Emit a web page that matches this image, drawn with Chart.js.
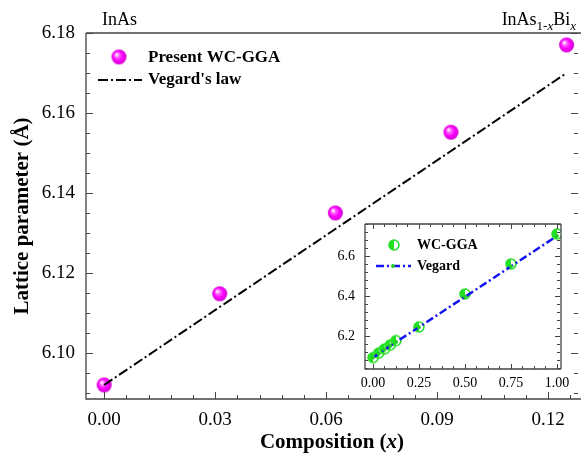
<!DOCTYPE html>
<html>
<head>
    <meta charset="utf-8">
    <script src="https://cdn.jsdelivr.net/npm/chart.js@4.4.1/dist/chart.umd.min.js"></script>
    <style>
        body { margin: 0; background: #fff; }
        #wrap { position: relative; width: 581px; height: 457px; overflow: hidden; }
        #wrap canvas { display: block; }
        #inset { position: absolute; left: 330px; top: 214px; }
    </style>
</head>
<body>
<div id="wrap">
    <canvas id="mainChart" width="581" height="457"></canvas>
    <canvas id="inset" width="245" height="186"></canvas>
</div>

<script>
    // main panel data
    var composition = [0, 0.03125, 0.0625, 0.09375, 0.125];
    var wcGga = [6.092, 6.1148, 6.135, 6.1552, 6.177];
    var vegardLaw = [6.092, 6.1115, 6.131, 6.1505, 6.170];
    var xTicks = [0, 0.03, 0.06, 0.09, 0.12];
    var yTicks = [6.10, 6.12, 6.14, 6.16, 6.18];

    // inset data (whole range 0..1)
    var insetComposition = [0, 0.03125, 0.0625, 0.09375, 0.125, 0.25, 0.5, 0.75, 1];
    var insetWcGga = [6.092, 6.115, 6.135, 6.155, 6.177, 6.245, 6.41, 6.56, 6.71];
    var insetVegard = [6.092, 6.111, 6.131, 6.150, 6.170, 6.244, 6.396, 6.548, 6.70];
    var insetXTicks = [0, 0.25, 0.5, 0.75, 1];
    var insetYTicks = [6.2, 6.4, 6.6];

    var serif = "'Liberation Serif', 'DejaVu Serif', serif";

    function pts(xs, ys) {
        return xs.map(function (x, i) { return {x: x, y: ys[i]}; });
    }

    // magenta ball marker
    function makeBall(r) {
        var c = document.createElement('canvas');
        c.width = c.height = 2 * r + 2;
        var g = c.getContext('2d');
        var m = r + 1;
        var grad = g.createRadialGradient(m - r * 0.35, m - r * 0.35, 0.5, m, m, r);
        grad.addColorStop(0, '#ffffff');
        grad.addColorStop(0.25, '#ff6cff');
        grad.addColorStop(0.6, '#ff00ff');
        grad.addColorStop(1, '#d000d0');
        g.fillStyle = grad;
        g.beginPath();
        g.arc(m, m, r, 0, Math.PI * 2);
        g.fill();
        return c;
    }

    // half filled green circle
    function makeHalf(r) {
        var c = document.createElement('canvas');
        c.width = c.height = 2 * r + 4;
        var g = c.getContext('2d');
        var m = r + 2;
        g.fillStyle = '#fff';
        g.beginPath(); g.arc(m, m, r, 0, Math.PI * 2); g.fill();
        g.fillStyle = '#22e022';
        g.beginPath(); g.arc(m, m, r, Math.PI / 2, Math.PI * 1.5); g.closePath(); g.fill();
        g.strokeStyle = '#22e022';
        g.lineWidth = 1.6;
        g.beginPath(); g.arc(m, m, r, 0, Math.PI * 2); g.stroke();
        return c;
    }

    var ball = makeBall(7.5);
    var half = makeHalf(5);

    function isMajor(v, step) {
        var q = v / step;
        return Math.abs(q - Math.round(q)) < 1e-6;
    }

    // frame + inward ticks (library only draws outward ones)
    var frameTicks = {
        id: 'frameTicks',
        beforeDraw: function (chart, args, o) {
            if (!o.fill) return;
            var a = chart.chartArea, ctx = chart.ctx;
            ctx.save();
            ctx.fillStyle = o.fill;
            ctx.fillRect(a.left, a.top, a.right - a.left, a.bottom - a.top);
            ctx.restore();
        },
        afterDraw: function (chart, args, o) {
            var ctx = chart.ctx, a = chart.chartArea;
            var xs = chart.scales.x, ys = chart.scales.y;
            var i, v, p, len;
            ctx.save();
            ctx.strokeStyle = o.color;
            ctx.lineWidth = o.width;
            ctx.beginPath();
            ctx.moveTo(a.left, a.top); ctx.lineTo(a.left, a.bottom); ctx.lineTo(a.right, a.bottom);
            ctx.moveTo(a.left, a.top); ctx.lineTo(a.right, a.top);
            if (o.rightLine) { ctx.moveTo(a.right, a.top); ctx.lineTo(a.right, a.bottom); }
            ctx.stroke();

            ctx.lineWidth = 1;
            ctx.beginPath();
            for (i = Math.ceil(xs.min / o.xMinor - 1e-9); i * o.xMinor <= xs.max + 1e-9; i++) {
                v = i * o.xMinor;
                len = isMajor(v, o.xMajor) ? o.major : o.minor;
                p = Math.round(xs.getPixelForValue(v)) + 0.5;
                ctx.moveTo(p, a.bottom); ctx.lineTo(p, a.bottom - len);
                if (o.topTicks) { ctx.moveTo(p, a.top); ctx.lineTo(p, a.top + len); }
            }
            for (i = Math.ceil(ys.min / o.yMinor - 1e-9); i * o.yMinor <= ys.max + 1e-9; i++) {
                v = i * o.yMinor;
                len = isMajor(v, o.yMajor) ? o.major : o.minor;
                p = Math.round(ys.getPixelForValue(v)) + 0.5;
                ctx.moveTo(a.left, p); ctx.lineTo(a.left + len, p);
                ctx.moveTo(a.right - o.rightInset, p); ctx.lineTo(a.right - o.rightInset - len, p);
            }
            ctx.stroke();
            ctx.restore();
        }
    };

    // draw a row of text pieces with different fonts
    function drawRuns(ctx, runs, x, y, align) {
        var total = 0;
        runs.forEach(function (r) { ctx.font = r.font; total += ctx.measureText(r.text).width; });
        var cx = align === 'center' ? x - total / 2 : (align === 'right' ? x - total : x);
        ctx.textAlign = 'left';
        runs.forEach(function (r) {
            ctx.font = r.font;
            ctx.fillText(r.text, cx, y + (r.dy || 0));
            cx += ctx.measureText(r.text).width;
        });
    }

    var mainText = {
        id: 'mainText',
        afterDraw: function (chart) {
            var ctx = chart.ctx;
            ctx.save();
            ctx.fillStyle = '#000';
            ctx.textBaseline = 'alphabetic';

            ctx.font = '18px ' + serif;
            ctx.fillText('InAs', 102, 25);
            drawRuns(ctx, [
                {text: 'InAs', font: '18px ' + serif},
                {text: '1-', font: '13px ' + serif, dy: 5},
                {text: 'x', font: 'italic 13px ' + serif, dy: 5},
                {text: 'Bi', font: '18px ' + serif},
                {text: 'x', font: 'italic 13px ' + serif, dy: 5}
            ], 576, 25, 'right');

            drawRuns(ctx, [
                {text: 'Composition (', font: 'bold 21px ' + serif},
                {text: 'x', font: 'bold italic 21px ' + serif},
                {text: ')', font: 'bold 21px ' + serif}
            ], 332, 448, 'center');

            ctx.save();
            ctx.translate(28, 216);
            ctx.rotate(-Math.PI / 2);
            ctx.textAlign = 'center';
            ctx.font = 'bold 21px ' + serif;
            ctx.fillText('Lattice parameter (\u00c5)', 0, 0);
            ctx.restore();

            // legend
            ctx.drawImage(ball, 110.5, 48.5);
            ctx.font = 'bold 17px ' + serif;
            ctx.textBaseline = 'middle';
            ctx.textAlign = 'left';
            ctx.fillText('Present WC-GGA', 148, 58);
            ctx.fillText("Vegard's law", 148, 80);
            ctx.strokeStyle = '#000';
            ctx.lineWidth = 2;
            ctx.setLineDash([10, 3, 2, 3]);
            ctx.beginPath();
            ctx.moveTo(98, 80); ctx.lineTo(142, 80);
            ctx.stroke();
            ctx.restore();
        }
    };

    var insetText = {
        id: 'insetText',
        afterDraw: function (chart) {
            var ctx = chart.ctx, a = chart.chartArea;
            var lx = a.left + 11, tx = a.left + 52;
            ctx.save();
            ctx.drawImage(half, a.left + 29 - 7, a.top + 21 - 7);
            ctx.fillStyle = '#000';
            ctx.font = 'bold 14px ' + serif;
            ctx.textBaseline = 'middle';
            ctx.fillText('WC-GGA', tx, a.top + 21);
            ctx.fillText('Vegard', tx, a.top + 42);
            ctx.strokeStyle = '#1414f0';
            ctx.lineWidth = 2.5;
            ctx.setLineDash([8, 3, 2, 3]);
            ctx.beginPath();
            ctx.moveTo(lx, a.top + 42); ctx.lineTo(lx + 35, a.top + 42);
            ctx.stroke();
            ctx.fillStyle = '#22d022';
            ctx.beginPath();
            ctx.arc(lx + 17, a.top + 42, 2, 0, Math.PI * 2);
            ctx.fill();
            ctx.restore();
        }
    };

    function tickList(arr) {
        return function (s) { s.ticks = arr.map(function (v) { return {value: v}; }); };
    }

    // fixed box sizes, no extra room for edge labels
    function fixHeight(h) {
        return function (s) { s.height = h; s.paddingLeft = 0; s.paddingRight = 0; };
    }
    function fixWidth(w) {
        return function (s) { s.width = w; s.paddingTop = 0; s.paddingBottom = 0; };
    }

    var mainChart = new Chart(document.getElementById('mainChart'), {
        type: 'scatter',
        data: {
            datasets: [
                {
                    label: "Vegard's law",
                    data: pts(composition, vegardLaw),
                    showLine: true,
                    borderColor: '#000',
                    borderWidth: 2,
                    borderDash: [10, 3, 2, 3],
                    pointRadius: 0
                },
                {
                    label: 'Present WC-GGA',
                    data: pts(composition, wcGga),
                    pointStyle: ball,
                    pointRadius: 7
                }
            ]
        },
        options: {
            responsive: false,
            devicePixelRatio: 1,
            animation: false,
            layout: { autoPadding: false, padding: { top: 33, right: 0, left: 0, bottom: 0 } },
            plugins: {
                legend: { display: false },
                tooltip: { enabled: false },
                frameTicks: {
                    color: '#444', width: 1.3, major: 7, minor: 4, rightInset: 3,
                    xMinor: 0.006, xMajor: 0.03, yMinor: 0.005, yMajor: 0.02,
                    topTicks: false, rightLine: false
                }
            },
            scales: {
                x: {
                    type: 'linear', min: -0.0049, max: 0.1289,
                    afterBuildTicks: tickList(xTicks),
                    afterFit: fixHeight(58),
                    grid: { display: false, drawTicks: false },
                    border: { display: false },
                    ticks: {
                        padding: 10, color: '#000', autoSkip: false, maxRotation: 0,
                        font: { family: serif, size: 19 },
                        callback: function (v) { return v.toFixed(2); }
                    }
                },
                y: {
                    type: 'linear', min: 6.0885, max: 6.18,
                    afterBuildTicks: tickList(yTicks),
                    afterFit: fixWidth(86),
                    grid: { display: false, drawTicks: false },
                    border: { display: false },
                    ticks: {
                        padding: 11, color: '#000',
                        font: { family: serif, size: 19 },
                        callback: function (v) { return v.toFixed(2); }
                    }
                }
            }
        },
        plugins: [frameTicks, mainText]
    });

    var insetChart = new Chart(document.getElementById('inset'), {
        type: 'scatter',
        data: {
            datasets: [
                {
                    label: 'Vegard',
                    data: pts(insetComposition, insetVegard),
                    showLine: true,
                    borderColor: '#1414f0',
                    borderWidth: 2.5,
                    borderDash: [8, 3, 2, 3],
                    pointRadius: 2,
                    pointBackgroundColor: '#22d022',
                    pointBorderWidth: 0
                },
                {
                    label: 'WC-GGA',
                    data: pts(insetComposition, insetWcGga),
                    pointStyle: half,
                    pointRadius: 6
                }
            ]
        },
        options: {
            responsive: false,
            devicePixelRatio: 1,
            animation: false,
            layout: { autoPadding: false, padding: { top: 10, right: 14, left: 0, bottom: 0 } },
            plugins: {
                legend: { display: false },
                tooltip: { enabled: false },
                frameTicks: {
                    fill: '#fff', color: '#444', width: 1.3, major: 5, minor: 3, rightInset: 1,
                    xMinor: 0.0625, xMajor: 0.25, yMinor: 0.04, yMajor: 0.2,
                    topTicks: true, rightLine: true
                }
            },
            scales: {
                x: {
                    type: 'linear', min: -0.0435, max: 1.022,
                    afterBuildTicks: tickList(insetXTicks),
                    afterFit: fixHeight(31),
                    grid: { display: false, drawTicks: false },
                    border: { display: false },
                    ticks: {
                        padding: 6, color: '#000', autoSkip: false, maxRotation: 0,
                        font: { family: serif, size: 14 },
                        callback: function (v) { return v.toFixed(2); }
                    }
                },
                y: {
                    type: 'linear', min: 6.035, max: 6.76,
                    afterBuildTicks: tickList(insetYTicks),
                    afterFit: fixWidth(35),
                    grid: { display: false, drawTicks: false },
                    border: { display: false },
                    ticks: {
                        padding: 10, color: '#000',
                        font: { family: serif, size: 14 },
                        callback: function (v) { return v.toFixed(1); }
                    }
                }
            }
        },
        plugins: [frameTicks, insetText]
    });
</script>
</body>
</html>
